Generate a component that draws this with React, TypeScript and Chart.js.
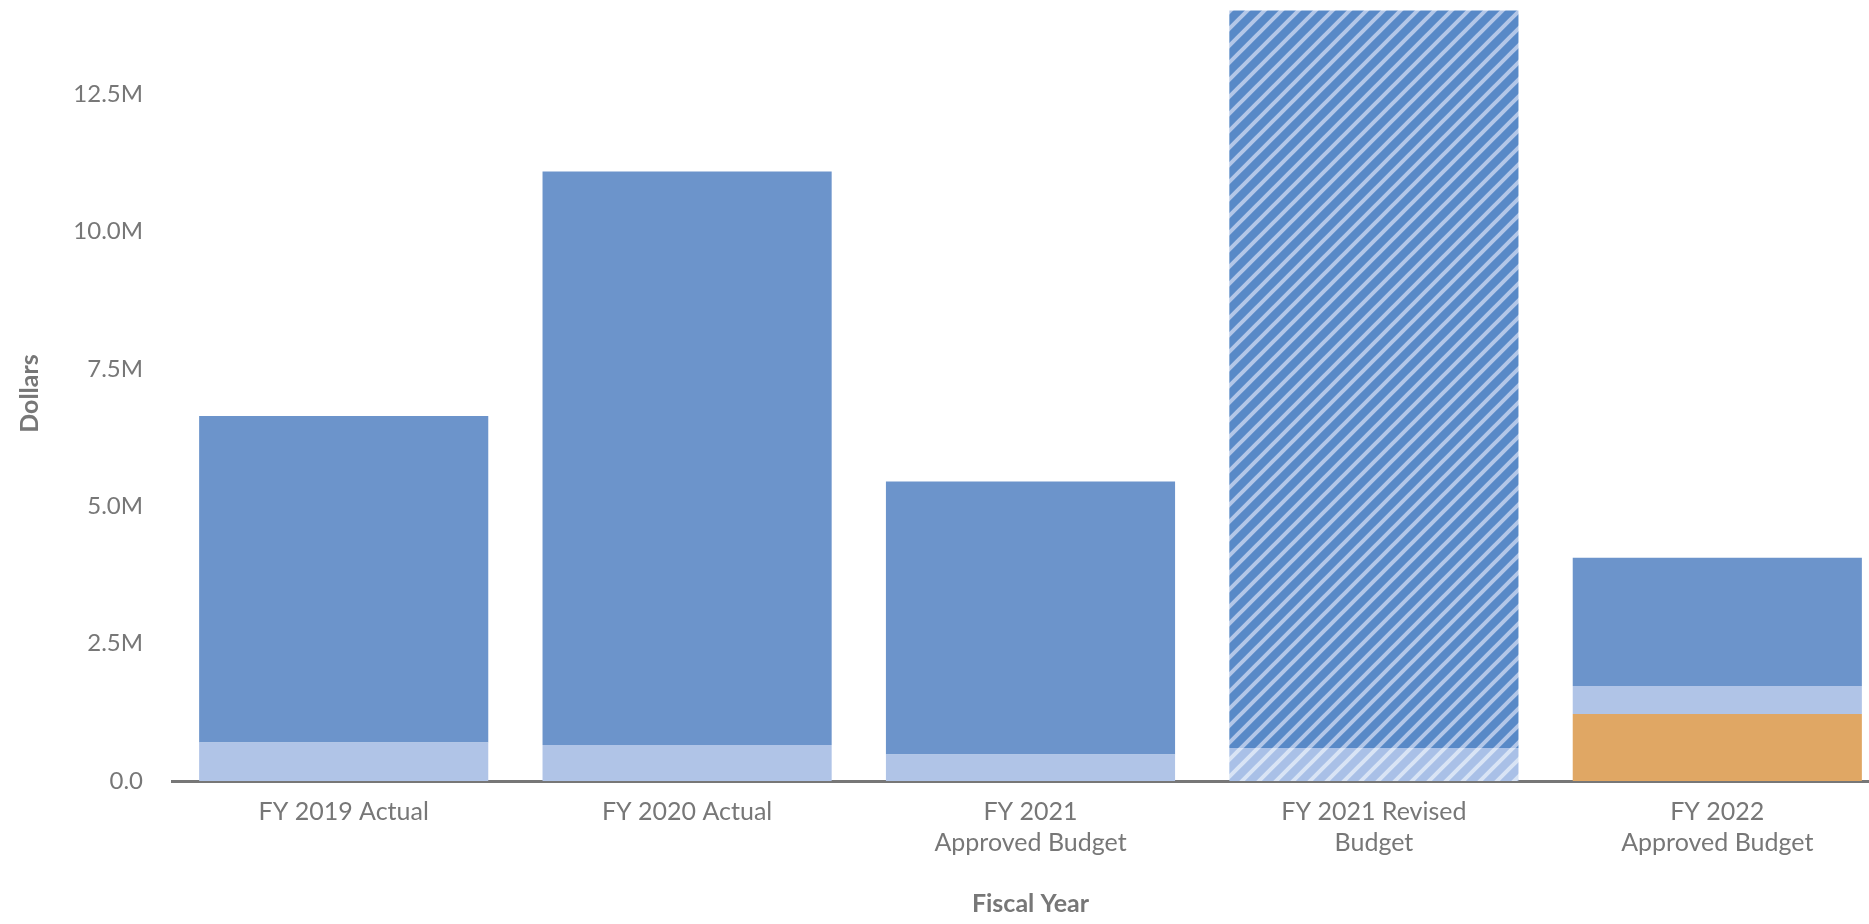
import React, { useEffect, useRef } from "react";
import { Chart, registerables } from "chart.js";

Chart.register(...registerables);

const categories: (string | string[])[] = [
  "FY 2019 Actual",
  "FY 2020 Actual",
  ["FY 2021", "Approved Budget"],
  ["FY 2021 Revised", "Budget"],
  ["FY 2022", "Approved Budget"],
];

// stacked segments, bottom to top
const orangeSeries = [0, 0, 0, 0, 1220000];
const lightSeries = [700000, 655000, 480000, 600000, 510000];
const blueSeries = [5940000, 10435000, 4970000, 13420000, 2330000];

const yTickValues = [0, 2500000, 5000000, 7500000, 10000000, 12500000];
const yTickLabels = ["0.0", "2.5M", "5.0M", "7.5M", "10.0M", "12.5M"];
const yMax = 14100000;

const BLUE = "#6c94cb";
const LIGHT = "#b0c4e7";
const ORANGE = "#e0a764";
const GRAY = "#777777";
const FONT = "Lato";

function makePattern(base: string, stripe: string): CanvasPattern | string {
  const size = 17;
  const c = document.createElement("canvas");
  c.width = size;
  c.height = size;
  const ctx = c.getContext("2d");
  if (!ctx) return base;
  ctx.fillStyle = base;
  ctx.fillRect(0, 0, size, size);
  ctx.strokeStyle = stripe;
  ctx.lineWidth = 4;
  ctx.beginPath();
  ctx.moveTo(-2, size + 2);
  ctx.lineTo(size + 2, -2);
  ctx.moveTo(-3, 3);
  ctx.lineTo(3, -3);
  ctx.moveTo(size - 3, size + 3);
  ctx.lineTo(size + 3, size - 3);
  ctx.stroke();
  const p = ctx.createPattern(c, "repeat");
  return p || base;
}

export default function App() {
  const ref = useRef<HTMLCanvasElement | null>(null);

  useEffect(() => {
    if (!ref.current) return;
    const hatchBlue = makePattern("#5889c7", "#b3c7e8");
    const hatchLight = makePattern("#a9c0e7", "#d9e4f5");
    const revisedIdx = 3;
    const colorsFor = (c: any, h: any) =>
      categories.map((_, i) => (i === revisedIdx ? h : c));

    const chart = new Chart(ref.current, {
      type: "bar",
      data: {
        labels: categories as any,
        datasets: [
          {
            label: "Other",
            data: orangeSeries,
            backgroundColor: ORANGE,
            borderWidth: 0,
          },
          {
            label: "Light",
            data: lightSeries,
            backgroundColor: colorsFor(LIGHT, hatchLight) as any,
            borderWidth: 0,
          },
          {
            label: "Main",
            data: blueSeries,
            backgroundColor: colorsFor(BLUE, hatchBlue) as any,
            borderWidth: 0,
          },
        ],
      },
      options: {
        animation: false,
        responsive: true,
        maintainAspectRatio: false,
        layout: { padding: { top: 6, right: 11, left: 0, bottom: 0 } },
        datasets: {
          bar: { categoryPercentage: 1, barPercentage: 0.842 },
        },
        plugins: {
          legend: { display: false },
          tooltip: { enabled: false },
        },
        scales: {
          x: {
            stacked: true,
            grid: { display: false, drawTicks: false },
            border: { display: true, color: GRAY, width: 3 },
            ticks: {
              color: GRAY,
              padding: 15,
              font: { family: FONT, size: 25, lineHeight: 1.25 },
              maxRotation: 0,
              autoSkip: false,
            },
            title: {
              display: true,
              text: "Fiscal Year",
              color: GRAY,
              font: { family: FONT, size: 25, weight: "bold" },
              padding: { top: 0, bottom: 5 },
            },
            afterFit: (scale: any) => {
              scale.height = 143;
            },
          },
          y: {
            type: "linear",
            stacked: true,
            bounds: "data",
            min: 0,
            max: yMax,
            grid: { display: false, drawTicks: false },
            border: { display: false },
            ticks: {
              autoSkip: false,
              color: GRAY,
              padding: 29,
              font: { family: FONT, size: 24 },
              callback: (v: any) => {
                const i = yTickValues.indexOf(Number(v));
                return i >= 0 ? yTickLabels[i] : null;
              },
            },
            afterDataLimits: (scale: any) => {
              scale.min = 0;
              scale.max = yMax;
            },
            afterBuildTicks: (scale: any) => {
              scale.ticks = yTickValues.map((value) => ({ value }));
            },
            title: {
              display: true,
              text: "Dollars",
              color: GRAY,
              font: { family: FONT, size: 25, weight: "bold" },
              padding: { top: 15, bottom: 0 },
            },
            afterFit: (scale: any) => {
              scale.width = 172;
              scale.paddingTop = 0;
              scale.paddingBottom = 0;
            },
          },
        },
      },
    });
    return () => chart.destroy();
  }, []);

  return (
    <div
      style={{
        position: "fixed",
        left: 0,
        top: 0,
        width: "100vw",
        height: "100vh",
        overflow: "hidden",
        background: "#ffffff",
      }}
    >
      <div style={{ position: "relative", width: 1900, height: 924 }}>
        <canvas ref={ref} />
      </div>
    </div>
  );
}
